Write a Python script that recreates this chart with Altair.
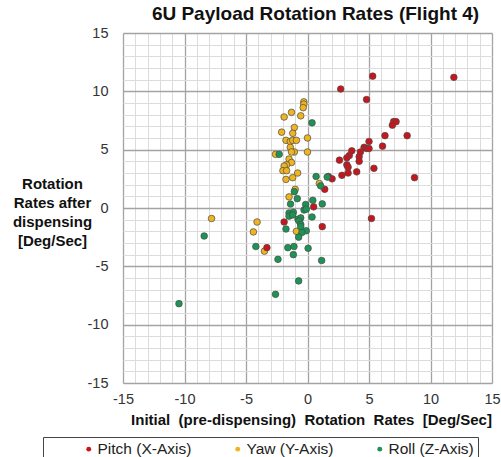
import altair as alt
import pandas as pd

# Series definitions
series_names = ["Pitch (X-Axis)", "Yaw (Y-Axis)", "Roll (Z-Axis)"]
series_colors = ["#c8161d", "#efb422", "#1c9454"]

# Pitch (X-Axis): initial rate vs rate after dispensing [deg/s]
pitch_x = [5.3, 11.9, 2.7, 4.8, 7.0, 7.2, 6.9, 6.3, 8.1, 5.0, 6.1, 4.6, 4.8, 5.0,
           4.3, 4.2, 3.6, 3.4, 3.2, 4.2, 2.6, 3.2, 3.3, 5.4, 4.0, 3.3, 2.8, 8.7,
           1.7, 2.0, 1.4, 0.5, 5.2, -1.9, 1.2, -3.3]
pitch_y = [11.3, 11.2, 10.2, 9.3, 7.4, 7.4, 7.1, 6.2, 6.2, 5.7, 5.3, 5.2, 5.1, 5.1,
           4.8, 4.4, 4.9, 4.5, 4.3, 4.0, 4.1, 3.7, 3.5, 3.4, 3.1, 3.0, 2.8, 2.6,
           2.7, 2.5, 1.6, 0.1, -0.9, -1.2, -1.6, -3.4]

# Yaw (Y-Axis)
yaw_x = [-0.3, -0.3, -0.35, -1.9, -1.3, -0.55, -1.07, -2.1, -1.2, 0.0, -1.75, -1.4,
         -1.2, -0.9, -1.4, -1.07, -1.3, 0.0, -2.6, -1.5, -1.3, -1.7, -1.9, -2.0,
         -1.7, -0.8, -1.2, -1.75, 0.96, -1.0, -1.5, -7.8, -4.1, -4.4, -3.5, -0.9]
yaw_y = [9.1, 8.9, 8.6, 7.8, 8.2, 7.9, 6.9, 6.5, 6.4, 6.0, 5.8, 5.7,
         5.8, 5.8, 5.2, 4.8, 4.8, 4.8, 4.6, 4.2, 3.9, 3.7, 3.6, 3.2,
         3.2, 3.0, 2.6, 2.45, 2.1, 1.6, 0.95, -0.9, -1.2, -2.05, -3.7, -2.0]

# Roll (Z-Axis)
roll_x = [0.37, -2.3, 0.7, 1.6, 1.07, -1.07, -0.83, 0.43, -1.38, -0.15, 1.2, -0.28,
          -0.1, -1.5, -1.15, -1.5, -1.2, -0.77, -0.55, 0.37, -0.7, -0.55, -0.55,
          -1.75, -0.1, -0.45, -0.72, -8.4, -4.2, -1.6, -1.1, 0.05, -1.15, -2.4,
          1.15, -0.72, -2.6, -10.45]
roll_y = [7.3, 4.6, 2.7, 2.65, 1.9, 1.4, 0.8, 0.66, 0.34, 0.3, 0.35, -0.17,
          -0.1, -0.43, -0.37, -0.7, -0.6, -0.97, -0.85, -0.77, -1.1, -1.4, -1.6,
          -1.8, -1.95, -2.1, -2.5, -2.4, -3.3, -3.4, -3.3, -3.45, -4.0, -4.4,
          -4.5, -6.25, -7.4, -8.2]

# Drawing order: yaw underneath, then pitch, roll on top
rows = []
for name, xs, ys, rank in [(series_names[1], yaw_x, yaw_y, 0),
                           (series_names[0], pitch_x, pitch_y, 1),
                           (series_names[2], roll_x, roll_y, 2)]:
    for x, y in zip(xs, ys):
        rows.append({"series": name, "initial": x, "after": y, "rank": rank})
df = pd.DataFrame(rows)

FONT = "Liberation Sans"
is_major = "datum.value % 5 === 0"

def axis_opts(**extra):
    return dict(
        values=list(range(-15, 16)),
        grid=True,
        gridColor={"condition": {"test": is_major, "value": "#a3a3a3"}, "value": "#dcdcdc"},
        gridWidth={"condition": {"test": is_major, "value": 1.3}, "value": 1},
        labelExpr=f"{is_major} ? '' + datum.value : ''",
        labelOverlap=False,
        labelFlush=False,
        ticks=False,
        domain=False,
        labelFont=FONT,
        labelFontSize=14.5,
        labelColor="#333333",
        titleFont=FONT,
        titleFontSize=15,
        titleFontWeight="bold",
        titleColor="#111111",
        **extra,
    )

chart = (
    alt.Chart(df)
    .mark_circle(size=44, opacity=1, stroke="#4a4a4a", strokeWidth=0.7)
    .encode(
        x=alt.X("initial:Q",
                scale=alt.Scale(domain=[-15, 15], nice=False, zero=False),
                axis=alt.Axis(title="Initial\u00a0 (pre-dispensing)\u00a0 Rotation\u00a0 Rates\u00a0 [Deg/Sec]",
                              labelPadding=9, titlePadding=7, titleX=188, **axis_opts())),
        y=alt.Y("after:Q",
                scale=alt.Scale(domain=[-15, 15], nice=False, zero=False),
                axis=alt.Axis(title=["Rotation", "Rates after", "dispensing", "[Deg/Sec]"],
                              labelPadding=15, titleAngle=0, titleAlign="center",
                              titleBaseline="middle", titleX=-71, titleY=150,
                              titleLineHeight=19, **axis_opts())),
        color=alt.Color("series:N",
                        scale=alt.Scale(domain=series_names, range=series_colors),
                        legend=alt.Legend(
                            orient="none", legendX=-80, legendY=404,
                            direction="horizontal", columns=3,
                            title="\u00a0", titleOrient="left", titlePadding=34,
                            titleFontSize=14,
                            strokeColor="#444444", fillColor="white", padding=4,
                            symbolType="circle", symbolSize=24, symbolStrokeWidth=0,
                            labelFont=FONT, labelFontSize=15.5, labelColor="#222222",
                            labelOffset=1, columnPadding=38,
                        )),
        order=alt.Order("rank:Q"),
    )
    .properties(
        width=369,
        height=350,
        padding={"left": 123, "top": 33, "right": 9, "bottom": 74},
        autosize=alt.AutoSizeParams(type="none"),
        title=alt.TitleParams("6U Payload Rotation Rates (Flight 4)", font=FONT,
                              fontSize=19, fontWeight="bold", color="#111111",
                              anchor="middle", dx=8, offset=1),
    )
    .configure_view(stroke="#a3a3a3", strokeWidth=1.3)
    .configure(background="white")
)

chart.save("out.html", embed_options={"renderer": "svg", "actions": False})
